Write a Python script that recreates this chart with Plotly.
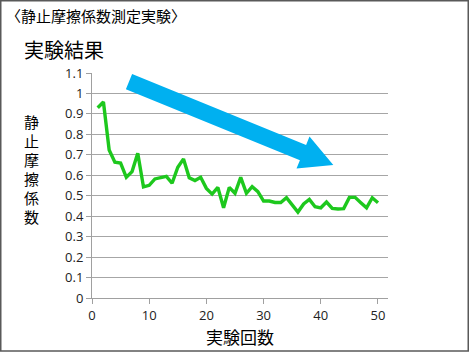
import plotly.graph_objects as go

trial = list(range(1, 51))
mu = [0.93, 0.958, 0.724, 0.664, 0.66, 0.59, 0.618, 0.708, 0.543, 0.551,
      0.582, 0.59, 0.595, 0.561, 0.639, 0.68, 0.588, 0.574, 0.59, 0.536,
      0.508, 0.541, 0.441, 0.541, 0.512, 0.59, 0.512, 0.544, 0.52, 0.474,
      0.474, 0.467, 0.467, 0.49, 0.454, 0.42, 0.46, 0.482, 0.446, 0.441,
      0.469, 0.438, 0.435, 0.437, 0.492, 0.492, 0.466, 0.441, 0.49, 0.466]
x_ticks = [0, 10, 20, 30, 40, 50]
y_ticks = [0, 0.1, 0.2, 0.3, 0.4, 0.5, 0.6, 0.7, 0.8, 0.9, 1, 1.1]
y_tick_text = ["0", "0.1", "0.2", "0.3", "0.4", "0.5", "0.6", "0.7", "0.8", "0.9", "1", "1.1"]
y_title_chars = ["静", "止", "摩", "擦", "係", "数"]

W, H = 469, 352
L, R, T, B = 92, 81, 73, 54
PW, PH = W - L - R, H - T - B

def px(x):
    return (x - L) / PW

def py(y):
    return (H - B - y) / PH

CJK = "Noto Sans CJK JP"
NUM = "Open Sans"

fig = go.Figure()
fig.add_trace(go.Scatter(x=trial, y=mu, mode="lines",
                         line=dict(color="#1DC81D", width=3.4),
                         hoverinfo="skip", showlegend=False))

arrow_pts = [(132.1, 74.1), (306.1, 145.0), (309.5, 136.6), (333.3, 165.0),
             (296.5, 168.6), (299.9, 160.2), (125.9, 89.3)]
path = "M " + " L ".join(f"{px(a):.4f},{py(b):.4f}" for a, b in arrow_pts) + " Z"

shapes = [
    dict(type="path", xref="paper", yref="paper", path=path,
         fillcolor="#00B0F0", line=dict(width=0), layer="above"),
    dict(type="rect", xref="paper", yref="paper",
         x0=px(0.75), x1=px(468.25), y0=py(0.75), y1=py(351.0),
         line=dict(color="#595959", width=1.5)),
]

annotations = [
    dict(text="〈静止摩擦係数測定実験〉", xref="paper", yref="paper",
         x=px(4), y=py(16), xanchor="left", yanchor="middle", showarrow=False,
         font=dict(family=CJK, size=15, color="#000")),
    dict(text="実験結果", xref="paper", yref="paper",
         x=px(22), y=py(49), xanchor="left", yanchor="middle", showarrow=False,
         font=dict(family=CJK, size=20, color="#000")),
]
for i, ch in enumerate(y_title_chars):
    annotations.append(dict(text=ch, xref="paper", yref="paper",
                            x=px(31), y=py(121 + 19 * i), xanchor="center",
                            yanchor="middle", showarrow=False,
                            font=dict(family=CJK, size=15, color="#000")))

fig.update_layout(
    width=W, height=H, margin=dict(l=L, r=R, t=T, b=B),
    paper_bgcolor="white", plot_bgcolor="white",
    shapes=shapes, annotations=annotations,
    xaxis=dict(range=[0, 51.75], tickvals=x_ticks, ticks="outside", ticklen=5,
               tickcolor="#A0A0A0", showgrid=False, zeroline=False,
               showline=True, linecolor="#A0A0A0", linewidth=1,
               tickfont=dict(family=NUM, size=13, color="#222"),
               title=dict(text="実験回数", font=dict(family=CJK, size=17, color="#000"),
                          standoff=2)),
    yaxis=dict(range=[0, 1.1], tickvals=y_ticks, ticktext=y_tick_text,
               ticks="outside", ticklen=5, tickcolor="#A0A0A0",
               showgrid=True, gridcolor="#A6A6A6", gridwidth=1, zeroline=False,
               showline=True, linecolor="#A0A0A0", linewidth=1,
               tickfont=dict(family=NUM, size=13, color="#222")),
)

fig.write_html("out.html")
